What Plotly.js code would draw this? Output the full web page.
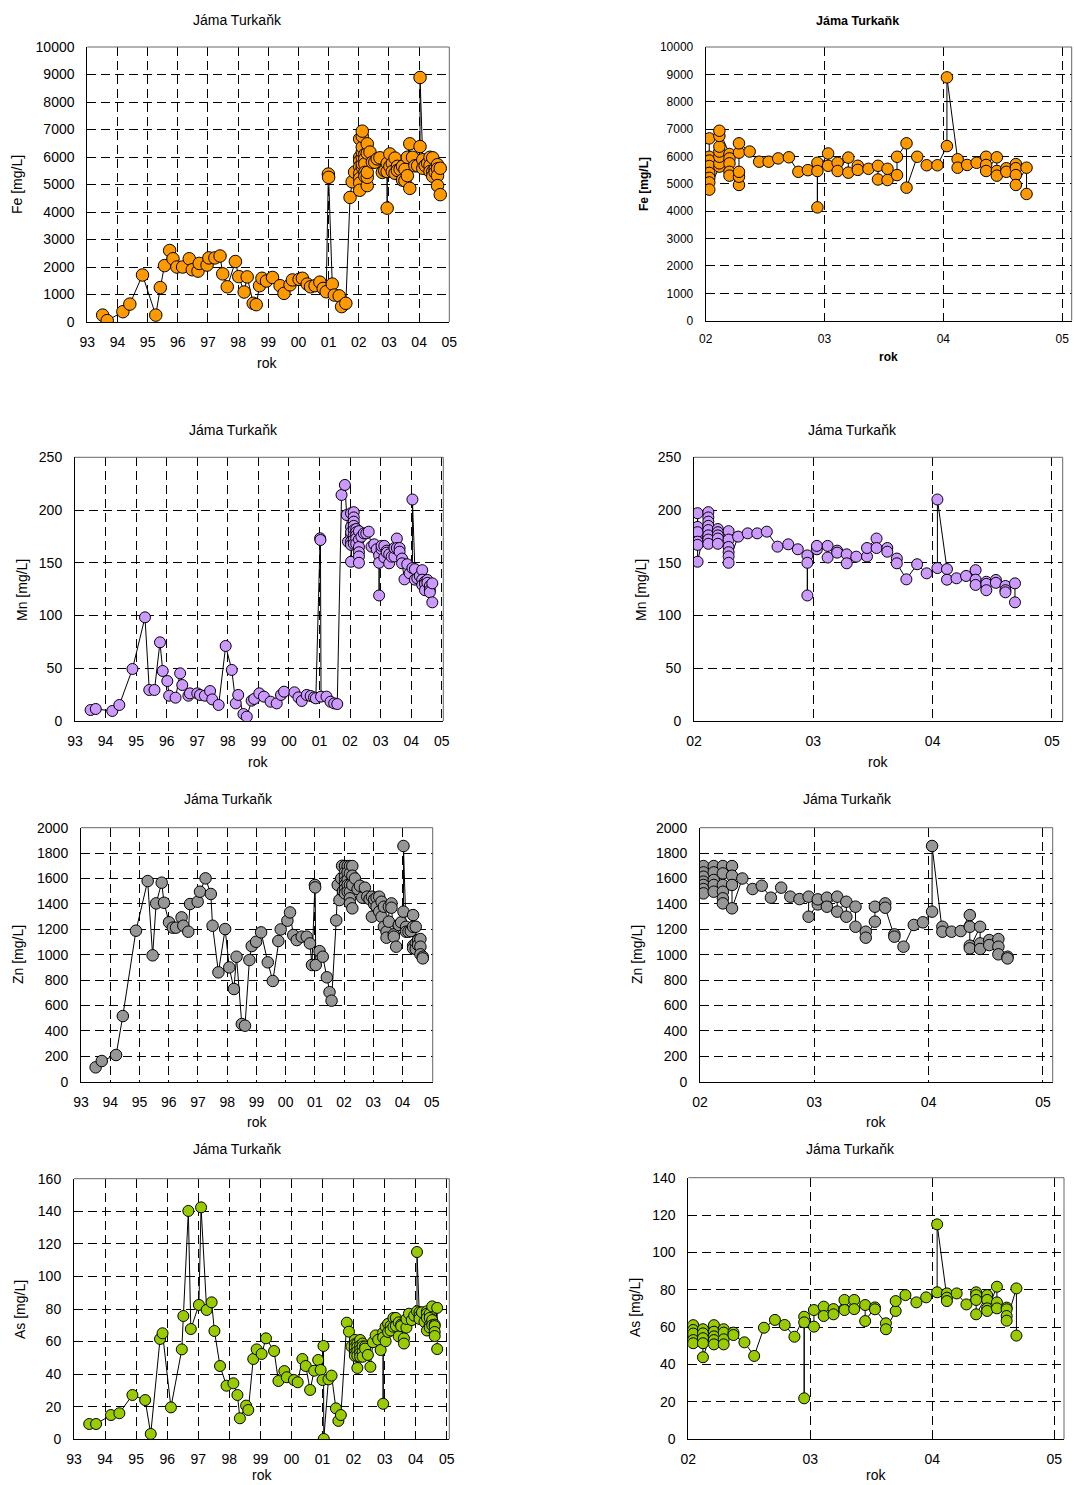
<!DOCTYPE html>
<html><head><meta charset="utf-8">
<script src="https://cdn.plot.ly/plotly-3.0.1.min.js"></script>
<style>html,body{margin:0;padding:0;background:#fff}#chart{width:1074px;height:1485px}</style>
</head><body><div id="chart"></div>
<script>
// ---------- data ----------
const yearTicks = [1993,1994,1995,1996,1997,1998,1999,2000,2001,2002,2003,2004,2005];
const yearLabels = ['93','94','95','96','97','98','99','00','01','02','03','04','05'];
const chartTitle = 'Jáma Turkaňk';
const xAxisTitle = 'rok';
const elementTitles = ['Fe [mg/L]','Mn [mg/L]','Zn [mg/L]','As [mg/L]'];

const feYear = [1993.51,1993.66,1994.18,1994.41,1994.83,1995.27,1995.42,1995.56,1995.73,1995.84,1995.97,1996.16,1996.38,1996.48,1996.67,1996.71,1996.97,1997.03,1997.23,1997.40,1997.49,1997.64,1997.91,1998.02,1998.20,1998.30,1998.50,1998.60,1998.71,1998.79,1998.94,1999.14,1999.39,1999.52,1999.72,1999.80,2000.02,2000.13,2000.29,2000.40,2000.55,2000.71,2000.82,2000.92,2000.99,2001.00,2001.12,2001.19,2001.35,2001.43,2001.57,2001.71,2001.78,2001.86,
 2002.03,2002.03,2002.03,2002.03,2002.03,2002.03,2002.03,2002.03,
 2002.115,2002.115,2002.115,2002.115,2002.115,2002.115,2002.115,
 2002.20,2002.20,2002.20,2002.20,2002.20,
 2002.28,2002.28,2002.28,2002.28,2002.28,
 2002.37,2002.45,2002.53,2002.61,2002.70,2002.78,2002.86,
 2002.94,2002.94,2002.94,2003.03,2003.03,2003.11,2003.11,2003.20,2003.20,2003.28,2003.28,2003.37,
 2003.45,2003.45,2003.53,2003.53,2003.61,2003.61,2003.69,2003.69,2003.78,2003.86,2003.95,
 2004.03,2004.03,2004.12,2004.12,2004.20,2004.28,2004.36,2004.36,2004.36,2004.45,2004.45,2004.45,
 2004.53,2004.53,2004.61,2004.61,2004.61,2004.61,2004.70,2004.70];
const feValue = [250,50,375,650,1710,250,1250,2050,2600,2300,2000,2000,2300,1900,1850,2130,2070,2330,2330,2400,1750,1280,2200,1650,1090,1640,680,630,1320,1590,1490,1620,1320,1040,1350,1530,1550,1590,1380,1280,1320,1450,1220,1100,5380,5260,1380,980,950,560,680,4530,5100,5450,
 6660,5990,5850,5650,5400,5220,5050,4790,
 5630,5750,5990,6180,6360,6750,6940,
 6090,5930,5750,5440,5300,
 4960,5260,5440,6140,6480,
 6180,5810,5810,5930,5970,5440,5500,
 5770,4140,5470,6110,5660,5770,5470,5960,5410,5660,5510,5550,
 5660,5160,5140,5550,5320,5990,6480,4860,5990,5680,5680,
 6380,8890,5900,5590,5690,5770,5990,5690,5470,5970,5470,5300,
 5570,5440,5720,5570,5320,4960,5590,4630];

const mnYear = [1993.51,1993.68,1994.22,1994.45,1994.88,1995.29,1995.43,1995.60,1995.78,1995.87,1996.02,1996.08,1996.29,1996.44,1996.51,1996.71,1996.76,1997.00,1997.09,1997.25,1997.42,1997.49,1997.70,1997.93,1998.13,1998.26,1998.34,1998.51,1998.62,1998.78,1998.86,1999.03,1999.18,1999.40,1999.60,1999.74,1999.84,2000.18,2000.31,2000.42,2000.58,2000.71,2000.82,2000.88,2001.02,2001.03,2001.05,2001.23,2001.36,2001.48,2001.58,2001.72,2001.83,2001.89,2001.93,
 2002.03,2002.03,2002.03,2002.03,2002.03,2002.03,2002.03,
 2002.12,2002.12,2002.12,2002.12,2002.12,2002.12,2002.12,2002.12,
 2002.20,2002.20,2002.20,2002.20,2002.20,
 2002.29,2002.29,2002.29,2002.29,2002.29,2002.29,
 2002.37,2002.45,2002.53,2002.61,2002.70,2002.79,2002.87,
 2002.95,2002.95,2002.95,2003.03,2003.03,2003.12,2003.12,2003.20,2003.20,2003.28,2003.28,2003.36,
 2003.45,2003.45,2003.53,2003.53,2003.62,2003.62,2003.70,2003.70,2003.78,2003.87,2003.95,
 2004.04,2004.04,2004.12,2004.12,2004.20,2004.28,2004.36,2004.36,2004.36,2004.45,2004.45,2004.45,
 2004.53,2004.53,2004.61,2004.61,2004.61,2004.69,2004.69];
const mnValue = [10.4,11.4,9.5,15.2,49.3,98.3,29.4,29.4,74.6,47.4,37.9,24,22.1,45.2,34.1,24,26.2,26.2,24.7,24,28.4,20.5,15.2,71.1,48.4,16.7,24.7,6.6,4.1,19.3,20.9,26.2,23.1,18.3,16.7,24.7,27.8,27.2,22.4,19,24.7,23.7,22.4,21.5,173.2,171.6,23.1,23.1,18.3,16.7,16.1,214.3,223.8,195.3,170,
 176,197,184,179,170,167,151,
 198,193,189,185,181,176,172,168,
 182,179,176,173,168,
 180,172,165,160,156,150,
 174.8,177.9,177.9,179.5,165.3,167.5,162.8,
 157,119,150,162.8,166,166,155,161.5,159.6,158,149.5,155.8,
 156,164,173,164,164,160.5,154,149.5,134.3,148.6,140,
 145,210,144,134,135.3,137.5,143,134,129,132,130,124,
 133.7,131,128,124,122,130.5,112.5];

const znYear = [1993.50,1993.71,1994.20,1994.43,1994.88,1995.28,1995.45,1995.57,1995.76,1995.84,1996.01,1996.14,1996.25,1996.44,1996.50,1996.67,1996.73,1996.99,1997.07,1997.26,1997.44,1997.50,1997.70,1997.93,1998.07,1998.23,1998.32,1998.50,1998.61,1998.76,1998.84,1998.99,1999.16,1999.39,1999.56,1999.75,1999.83,2000.06,2000.15,2000.26,2000.38,2000.55,2000.72,2000.83,2000.90,2001.00,2001.01,2001.03,2001.16,2001.27,2001.41,2001.50,2001.57,2001.73,2001.78,2001.84,2001.90,2001.93,2001.96,
 2002.03,2002.03,2002.03,2002.03,2002.03,2002.03,2002.03,
 2002.12,2002.12,2002.12,2002.12,2002.12,
 2002.20,2002.20,2002.20,2002.20,2002.20,2002.20,
 2002.28,2002.28,2002.28,2002.28,
 2002.37,2002.46,2002.54,2002.62,2002.71,2002.79,2002.87,
 2002.95,2002.95,2003.03,2003.03,2003.11,2003.11,2003.20,2003.20,2003.28,2003.28,2003.36,2003.36,
 2003.45,2003.45,2003.53,2003.53,2003.62,2003.62,2003.70,2003.70,2003.78,2003.87,2003.95,
 2004.03,2004.03,2004.12,2004.12,2004.20,2004.28,2004.36,2004.36,2004.36,2004.36,2004.45,2004.45,2004.45,
 2004.53,2004.53,2004.61,2004.61,2004.61,2004.69,2004.69];
const znValue = [113,163,210,517,1189,1580,995,1404,1567,1409,1255,1213,1213,1294,1228,1181,1399,1417,1496,1601,1478,1228,861,1202,900,730,984,454,441,958,1068,1102,1176,940,793,1108,1199,1268,1333,1155,1115,1142,1142,1089,919,1549,1530,919,1028,984,822,705,638,1270,1549,1430,1600,1700,1500,
 1698,1648,1614,1575,1549,1517,1483,
 1698,1648,1588,1549,1496,
 1698,1640,1549,1496,1444,1404,
 1698,1622,1549,1365,
 1600,1517,1543,1449,1528,1457,1438,
 1457,1299,1396,1436,1449,1378,1457,1339,1417,1299,1378,1220,
 1181,1134,1260,1378,1404,1370,1160,1142,1063,1234,1255,
 1339,1856,1220,1181,1181,1186,1312,1220,1071,1050,1220,1089,1045,
 1115,1076,1123,1063,1003,984,971];

const asYear = [1993.49,1993.71,1994.19,1994.46,1994.88,1995.29,1995.47,1995.77,1995.85,1996.12,1996.47,1996.52,1996.68,1996.76,1997.02,1997.09,1997.27,1997.43,1997.52,1997.70,1997.91,1998.13,1998.26,1998.34,1998.54,1998.61,1998.77,1998.88,1999.04,1999.18,1999.44,1999.58,1999.77,1999.85,2000.08,2000.20,2000.35,2000.46,2000.60,2000.73,2000.86,2000.94,2001.00,2001.03,2001.04,2001.19,2001.29,2001.43,2001.51,2001.59,2001.78,2001.85,2001.93,
 2002.04,2002.04,2002.04,2002.04,2002.04,2002.04,
 2002.12,2002.12,2002.12,2002.12,2002.12,
 2002.21,2002.21,2002.21,2002.21,2002.21,
 2002.29,2002.29,2002.29,2002.29,
 2002.37,2002.37,2002.46,2002.54,2002.62,2002.71,2002.79,2002.87,
 2002.95,2002.95,2002.95,2003.03,2003.03,2003.11,2003.11,2003.19,2003.19,2003.28,2003.28,2003.36,2003.36,
 2003.45,2003.45,2003.53,2003.53,2003.62,2003.62,2003.70,2003.70,2003.78,2003.87,2003.95,
 2004.04,2004.04,2004.12,2004.12,2004.12,2004.20,2004.28,2004.36,2004.36,2004.36,2004.36,
 2004.45,2004.45,2004.45,2004.45,2004.53,2004.53,2004.53,2004.61,2004.61,2004.61,2004.61,2004.69,2004.69];
const asValue = [9.4,9.4,14.9,16,27.2,24.1,3.3,61.6,65.1,19.6,55.2,75.7,140.2,67.7,82.5,142.4,79.4,84.1,66.5,45,32.9,34.4,27.2,12.9,20.7,18,49.3,55.2,52.4,62,54.2,35.8,41.9,38.1,36.4,35,49.3,45,30.3,42.1,48.7,42.6,36.4,57.3,0.2,36.8,39.1,19,11.3,14.9,71.6,66.1,57,
 55.7,61,58.4,56.5,53,51.3,
 58.8,56.6,54,51.3,43.8,
 61,57.5,55,53,50.7,
 58.8,57,53.4,50.7,
 57,55.7,51.8,44.5,59.6,63.8,61.1,54.8,
 65.5,21.8,62.5,60.2,69.1,70.9,65.9,69.6,66.8,74.5,69.1,74.5,69.6,
 71.8,63.2,70.5,69.5,62,58.8,68.6,73.9,77.1,73.2,75.9,
 78.6,115,78,75.7,73.9,78,72.1,78.6,77.1,74.5,66.8,
 77.1,74.5,70,68.6,81.6,73.2,70,70.4,69.5,65.9,63.4,80.7,55.4];

// ---------- layout helpers ----------
const W = 1074, H = 1485;
const FONT = 'Liberation Sans, Arial, sans-serif';
const px2x = v => v / W, px2y = v => 1 - v / H;

const panels = [
  {xs:feYear, ys:feValue, color:'#FF9900', msize:12.5, box:[87.3,47,449.3,322], xr:[1993,2005], yr:[0,10000], dy:1000, tfs:14, bold:false,
   title:[237,20], rok:[267,363], yt:[17,185], ytxt:elementTitles[0]},
  {xs:feYear, ys:feValue, color:'#FF9900', msize:11.5, box:[705.7,47,1071.7,320.7], xr:[2002,2005.08], yr:[0,10000], dy:1000, tfs:12, bold:true,
   title:[857,21], rok:[888,357], yt:[644,184], ytxt:elementTitles[0]},
  {xs:mnYear, ys:mnValue, color:'#CC99FF', msize:11, box:[75,457.3,443.3,721], xr:[1993,2005.05], yr:[0,250], dy:50, tfs:14, bold:false,
   title:[233,430], rok:[258,762], yt:[22,590], ytxt:elementTitles[1]},
  {xs:mnYear, ys:mnValue, color:'#CC99FF', msize:11, box:[694,457.3,1062.7,721], xr:[2002,2005.09], yr:[0,250], dy:50, tfs:14, bold:false,
   title:[852,430], rok:[878,762], yt:[641,590], ytxt:elementTitles[1]},
  {xs:znYear, ys:znValue, color:'#969696', msize:11.5, box:[81,827.7,432.7,1081.7], xr:[1993,2005.03], yr:[0,2000], dy:200, tfs:14, bold:false,
   title:[228,799], rok:[257,1122], yt:[18,955], ytxt:elementTitles[2]},
  {xs:znYear, ys:znValue, color:'#969696', msize:11.5, box:[700,827.7,1052.7,1081.7], xr:[2002,2005.085], yr:[0,2000], dy:200, tfs:14, bold:false,
   title:[847,799], rok:[876,1122], yt:[637,955], ytxt:elementTitles[2]},
  {xs:asYear, ys:asValue, color:'#99CC00', msize:11, box:[74,1178.7,449.3,1439.3], xr:[1993,2005.08], yr:[0,160], dy:20, tfs:14, bold:false,
   title:[237,1149], rok:[262,1475], yt:[20,1310], ytxt:elementTitles[3]},
  {xs:asYear, ys:asValue, color:'#99CC00', msize:11, box:[688.3,1177.7,1064,1439], xr:[2002,2005.08], yr:[0,140], dy:20, tfs:14, bold:false,
   title:[850,1149], rok:[876,1475], yt:[635,1308], ytxt:elementTitles[3]}
];

const data = [];
const layout = {
  width: W, height: H, margin:{l:0,r:0,t:0,b:0}, showlegend:false,
  paper_bgcolor:'#fff', plot_bgcolor:'#fff',
  font:{family:FONT, size:14, color:'#000'},
  annotations:[], shapes:[]
};

panels.forEach((p, i) => {
  const n = i === 0 ? '' : String(i + 1);
  data.push({
    type:'scatter', mode:'lines+markers', x:p.xs, y:p.ys,
    xaxis:'x' + n, yaxis:'y' + n,
    line:{color:'#000', width:1},
    marker:{symbol:'circle', size:p.msize, color:p.color, line:{color:'#000', width:1}},
    hoverinfo:'skip'
  });
  const [x0, y0, x1, y1] = p.box;
  const tv = yearTicks.filter(t => t >= p.xr[0] - 1e-6 && t <= p.xr[1] + 1e-6);
  const tt = tv.map(t => yearLabels[yearTicks.indexOf(t)]);
  layout['xaxis' + n] = {
    domain:[px2x(x0), px2x(x1)], anchor:'y' + n, range:p.xr,
    tickmode:'array', tickvals:tv, ticktext:tt, ticks:'', ticklabelstandoff:7,
    showgrid:true, gridcolor:'#000', gridwidth:1, griddash:'9px,5px',
    showline:true, linecolor:'#000', linewidth:1, zeroline:false, fixedrange:true,
    tickfont:{family:FONT, size:p.tfs, color:'#000'}
  };
  layout['yaxis' + n] = {
    domain:[px2y(y1), px2y(y0)], anchor:'x' + n, range:p.yr, dtick:p.dy, tick0:0,
    tickformat:'d', separatethousands:false,
    ticks:'', ticklabelstandoff:9,
    showgrid:true, gridcolor:'#000', gridwidth:1, griddash:'9px,5px',
    showline:true, linecolor:'#000', linewidth:1, zeroline:false, fixedrange:true,
    tickfont:{family:FONT, size:p.tfs, color:'#000'}
  };
  const xd = 'x' + n + ' domain', yd = 'y' + n + ' domain';
  layout.shapes.push({type:'line', xref:xd, yref:yd, x0:0, x1:1, y0:1, y1:1, line:{color:'#666', width:1}});
  layout.shapes.push({type:'line', xref:xd, yref:yd, x0:1, x1:1, y0:0, y1:1, line:{color:'#666', width:1}});
  const tf = {family:FONT, size:p.bold ? 12.5 : 14, color:'#000', weight:p.bold ? 'bold' : 'normal'};
  const af = {family:FONT, size:p.bold ? 12 : 14, color:'#000', weight:p.bold ? 'bold' : 'normal'};
  layout.annotations.push({text:chartTitle, xref:'paper', yref:'paper', x:px2x(p.title[0]), y:px2y(p.title[1]),
    xanchor:'center', yanchor:'middle', showarrow:false, font:tf});
  layout.annotations.push({text:xAxisTitle, xref:'paper', yref:'paper', x:px2x(p.rok[0]), y:px2y(p.rok[1]),
    xanchor:'center', yanchor:'middle', showarrow:false, font:af});
  layout.annotations.push({text:p.ytxt, xref:'paper', yref:'paper', x:px2x(p.yt[0]), y:px2y(p.yt[1]),
    xanchor:'center', yanchor:'middle', showarrow:false, textangle:-90, font:af});
});

Plotly.newPlot('chart', data, layout, {staticPlot:true, displayModeBar:false});
</script></body></html>
